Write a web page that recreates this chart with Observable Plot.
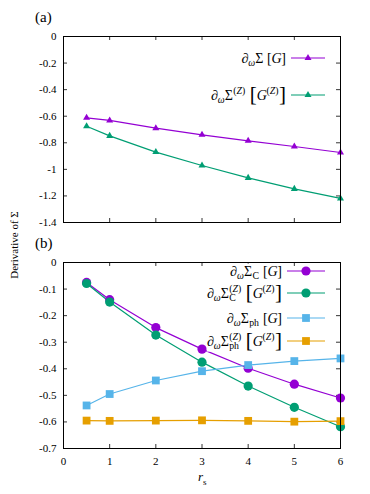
<!DOCTYPE html>
<html><head><meta charset="utf-8">
<script src="https://cdn.jsdelivr.net/npm/d3@7"></script>
<script src="https://cdn.jsdelivr.net/npm/@observablehq/plot@0.6"></script>
<style>
body{margin:0;background:#fff;}
#fig{position:relative;width:370px;height:494px;font-family:'Liberation Serif',serif;color:#000;overflow:hidden;}
#fig svg{display:block;}
.lbl{position:absolute;white-space:nowrap;line-height:1;font-family:'Liberation Serif',serif;}
</style></head><body><div id="fig"></div>
<script>
// ---- data ----
const rs = [0.5, 1, 2, 3, 4, 5, 6];
const dSigmaG   = [-0.612, -0.632, -0.690, -0.740, -0.785, -0.828, -0.873];
const dSigmaZ   = [-0.675, -0.748, -0.870, -0.971, -1.064, -1.147, -1.219];
const dSigmaCG  = [-0.075, -0.140, -0.245, -0.326, -0.398, -0.458, -0.510];
const dSigmaCZ  = [-0.079, -0.149, -0.273, -0.375, -0.465, -0.545, -0.618];
const dSigmaPhG = [-0.538, -0.495, -0.444, -0.409, -0.386, -0.371, -0.361];
const dSigmaPhZ = [-0.595, -0.596, -0.595, -0.594, -0.596, -0.599, -0.597];
const xTicks = [0, 1, 2, 3, 4, 5, 6];
const yTicksA = [0, -0.2, -0.4, -0.6, -0.8, -1, -1.2, -1.4];
const yTicksB = [0, -0.1, -0.2, -0.3, -0.4, -0.5, -0.6, -0.7];
const panelLabels = ["(a)", "(b)"];
const yLabel = "Derivative of Σ";

// math label pieces
const P = (t, o = {}) => ({t, ...o});
const dw = [P("∂", {it: 1}), P("ω", {it: 1, sub: 1}), P("Σ")];
const Z = [P("("), P("Z", {it: 1}), P(")")];
const bigGZ = [P("[", {big: 1.5, pre: 4}), P("G", {it: 1}), {sup: Z, pre: -0.6}, P("]", {big: 1.5})];
const smallG = [P("[", {pre: 3.5}), P("G", {it: 1}), P("]", {pre: -0.4})];

const seriesA = [
  {values: dSigmaG, color: "#9400d3", symbol: "triangle", r: 2.6, label: [...dw, ...smallG]},
  {values: dSigmaZ, color: "#009e73", symbol: "triangle", r: 2.6, label: [...dw, {sup: Z}, ...bigGZ]}
];
const seriesB = [
  {values: dSigmaCG, color: "#9400d3", symbol: "circle", r: 4.6, label: [...dw, {sub: [P("C")]}, ...smallG]},
  {values: dSigmaCZ, color: "#009e73", symbol: "circle", r: 4.6, label: [...dw, {sup: Z, sub: [P("C")]}, ...bigGZ]},
  {values: dSigmaPhG, color: "#56b4e9", symbol: "square", r: 4.4, label: [...dw, {sub: [P("ph")]}, ...smallG]},
  {values: dSigmaPhZ, color: "#e69f00", symbol: "square", r: 4.4, label: [...dw, {sup: Z, sub: [P("ph")]}, ...bigGZ]}
];

const W = 370, ML = 63, MR = 30;
const fmt = d => String(+(+d).toFixed(1));
const FONT = "'Liberation Serif', serif";

function panel({height, marginTop, marginBottom, yTicks, series, xLabels}) {
  const ymin = d3.min(yTicks), ymax = d3.max(yTicks);
  const frameH = height - marginTop - marginBottom, frameW = W - ML - MR;
  const tx = 6 * 4 / frameW, ty = (ymax - ymin) * 4 / frameH;
  const inner = a => a.slice(1, -1);
  const marks = [
    Plot.ruleY(inner(yTicks), {x1: 0, x2: tx, stroke: "#000", strokeWidth: 0.8}),
    Plot.ruleY(inner(yTicks), {x1: 6 - tx, x2: 6, stroke: "#000", strokeWidth: 0.8}),
    Plot.ruleX(inner(xTicks), {y1: ymin, y2: ymin + ty, stroke: "#000", strokeWidth: 0.8}),
    Plot.ruleX(inner(xTicks), {y1: ymax - ty, y2: ymax, stroke: "#000", strokeWidth: 0.8}),
    Plot.axisY({ticks: yTicks, tickSize: 0, tickPadding: 7, tickFormat: fmt, fontSize: 11}),
  ];
  if (xLabels) marks.push(Plot.axisX({ticks: xTicks, tickSize: 0, tickPadding: 9, tickFormat: fmt, fontSize: 11}));
  for (const s of series) {
    const data = rs.map((x, i) => ({x, y: s.values[i]}));
    marks.push(Plot.line(data, {x: "x", y: "y", stroke: s.color, strokeWidth: 1.2}));
  }
  for (const s of series) {
    const data = rs.map((x, i) => ({x, y: s.values[i]}));
    marks.push(Plot.dot(data, {x: "x", y: "y", fill: s.color, stroke: "none", symbol: s.symbol, r: s.r}));
  }
  marks.push(Plot.frame({stroke: "#000", strokeWidth: 1}));
  return Plot.plot({
    width: W, height, marginLeft: ML, marginRight: MR, marginTop, marginBottom,
    x: {domain: [0, 6], axis: xLabels ? undefined : null, label: null},
    y: {domain: [ymin, ymax], label: null},
    style: {fontFamily: FONT, fontSize: "11px", background: "white", color: "black"},
    marks
  });
}

const fig = document.getElementById("fig");
const pA = panel({height: 232, marginTop: 36, marginBottom: 10, yTicks: yTicksA, series: seriesA, xLabels: false});
const pB = panel({height: 262, marginTop: 30, marginBottom: 46, yTicks: yTicksB, series: seriesB, xLabels: true});
fig.appendChild(pA);
fig.appendChild(pB);

// math-text layout: one <text> per label, flowing tspans shifted with dx/dy
function drawMath(svgNode, pieces, xRight, yCenter, fs, frameTop) {
  const g = d3.select(svgNode).append("g");
  const text = g.append("text").attr("font-family", FONT).attr("fill", "#000");
  let cur = 0, pend = 0;
  function put(p, shift, size) {
    let sz = size, sh = shift;
    if (p.big) { sz = size * p.big; sh = shift - size * 0.07; }
    const t = text.append("tspan").attr("font-size", sz)
      .attr("font-style", p.it ? "italic" : "normal").text(p.t);
    if (p.big) t.attr("font-weight", 300);
    const dy = -(sh - cur); if (Math.abs(dy) > 1e-6) t.attr("dy", dy); cur = sh;
    const dx = (p.pre || 0) + pend; pend = 0; if (dx) t.attr("dx", dx);
    return dx + t.node().getComputedTextLength();
  }
  for (const p of pieces) {
    if (p.sup || p.sub && !p.t) {
      const s = fs * 0.7;
      pend += 0.3 + (p.pre || 0);
      let w1 = 0, w2 = 0;
      if (p.sup) for (const q of p.sup) w1 += put(q, fs * 0.42, s);
      if (p.sub) {
        if (p.sup) pend += -w1 + 0.3 + (p.pre || 0);
        for (const q of p.sub) w2 += put(q, -fs * 0.24, s);
      }
      // if the subscript ended left of the superscript, move the pen to the superscript's end
      if (p.sup && p.sub && w2 < 0) pend += -w2;
      pend += 0.5;
    } else if (p.sub) {
      put(p, -fs * 0.24, fs * 0.7);
    } else {
      put(p, 0, fs);
    }
  }
  const bb = text.node().getBBox();
  const tx = xRight - (bb.x + bb.width), ty = yCenter + fs * 0.33;
  text.attr("transform", `translate(${tx},${ty})`);
  // white backing so frame ticks do not show through the key text
  const top = Math.max(bb.y + ty, frameTop + 1);
  g.insert("rect", "text").attr("x", bb.x + tx).attr("y", top)
    .attr("width", bb.width).attr("height", bb.y + ty + bb.height - top).attr("fill", "#fff");
}

function legend(svgNode, series, rowsY, textRight, x1, x2, fs, frameTop) {
  const g = d3.select(svgNode).append("g");
  series.forEach((s, i) => {
    const y = rowsY[i];
    g.append("line").attr("x1", x1).attr("x2", x2).attr("y1", y).attr("y2", y)
      .attr("stroke", s.color).attr("stroke-width", 1.2);
    const sym = {triangle: d3.symbolTriangle, circle: d3.symbolCircle, square: d3.symbolSquare}[s.symbol];
    g.append("path").attr("d", d3.symbol(sym, Math.PI * s.r * s.r)())
      .attr("transform", `translate(${(x1 + x2) / 2},${y})`).attr("fill", s.color);
    drawMath(svgNode, s.label, textRight, y, fs, frameTop);
  });
}
legend(pA, seriesA, [58, 95], 286, 291, 325, 14, 36);
legend(pB, seriesB, [39, 61, 86, 109], 282, 287, 325, 14, 30);

function addLabel(html, left, top, size, extra) {
  const d = document.createElement("div");
  d.className = "lbl";
  d.style.left = left + "px"; d.style.top = top + "px"; d.style.fontSize = size + "px";
  d.innerHTML = html;
  if (extra) Object.assign(d.style, extra);
  fig.appendChild(d);
  return d;
}
addLabel(panelLabels[0], 35, 10, 15);
addLabel(panelLabels[1], 35, 236, 15);
addLabel('<i>r</i><sub style="font-size:0.7em">s</sub>', 198, 470, 13);
addLabel(yLabel, 14, 245, 11, {transform: "translate(-50%,-50%) rotate(-90deg)", transformOrigin: "center"});
</script>
</body></html>
